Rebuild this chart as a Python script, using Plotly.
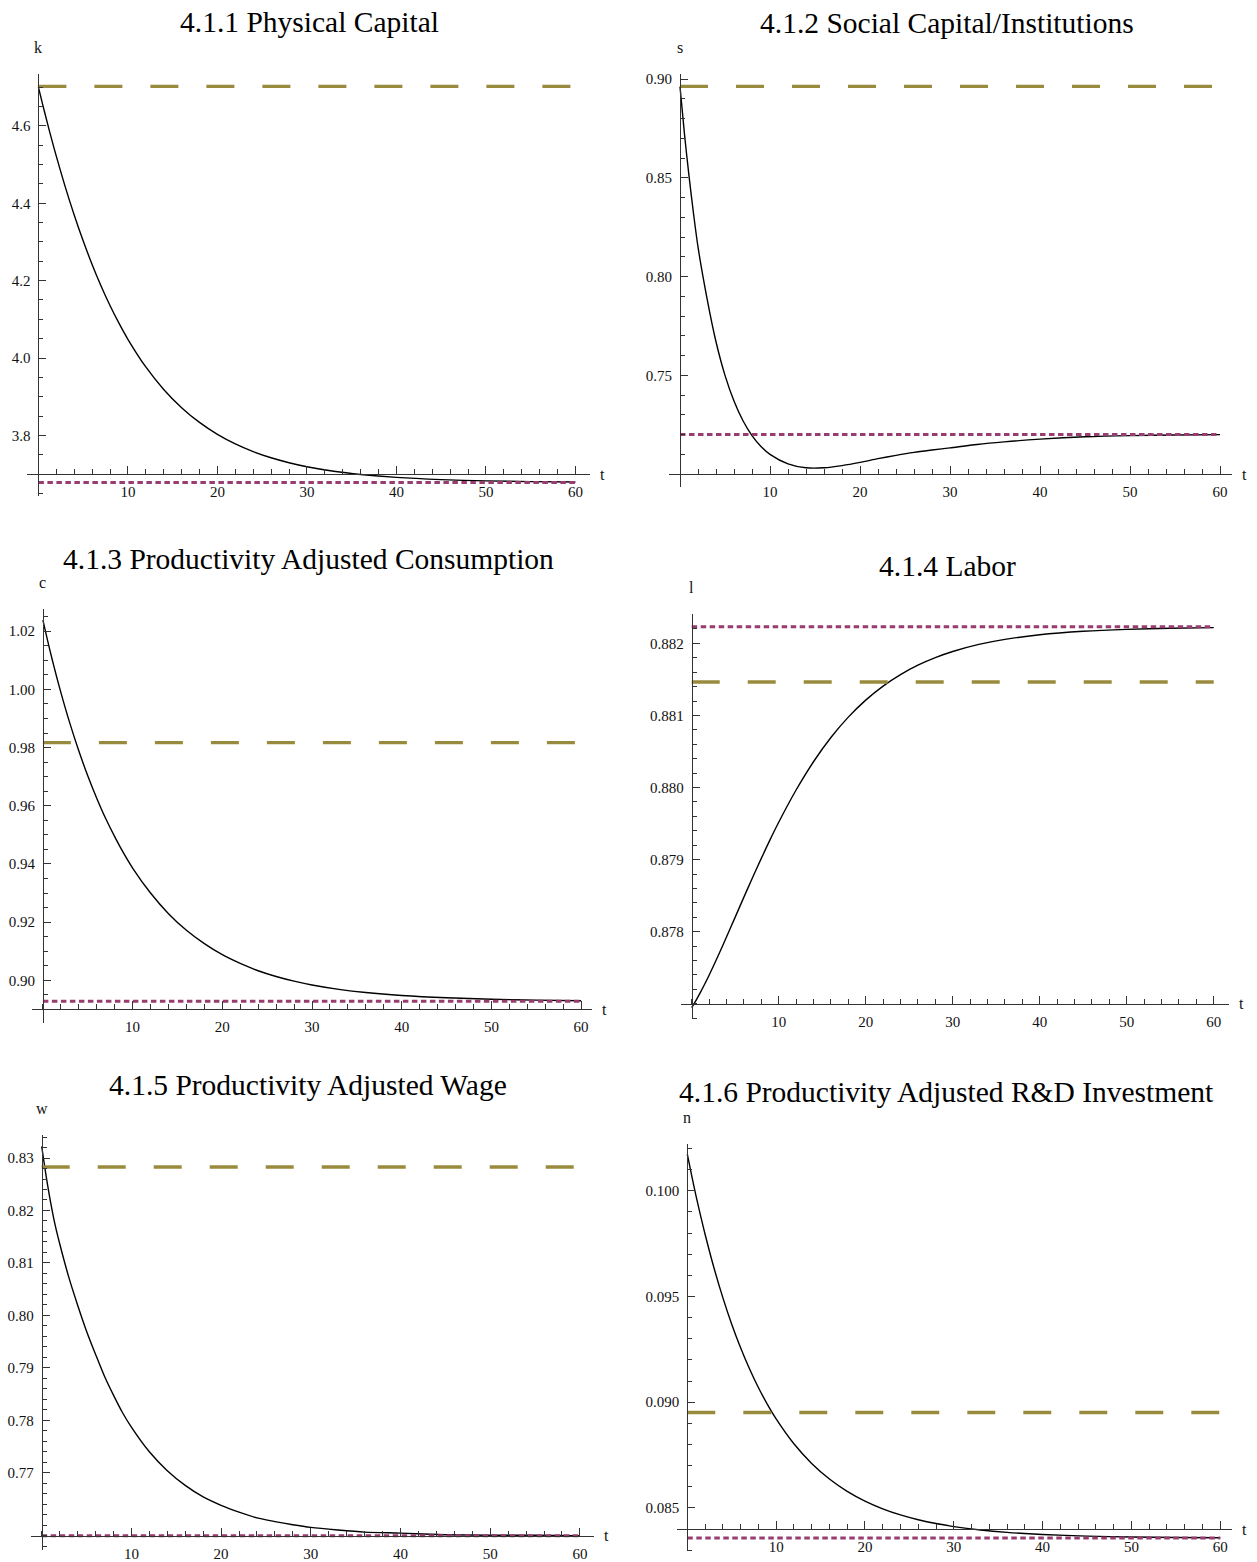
import plotly.graph_objects as go

W, H = 1257, 1562

# time grid of the transition paths
T = [0, 0.5, 1, 1.5, 2, 3, 4, 5, 6, 7, 8, 9, 10, 12, 14, 16, 18, 20, 22, 24,
     26, 28, 30, 33, 36, 40, 45, 50, 55, 60]

# transition paths of the six variables
k_path = [4.7003, 4.6531, 4.6077, 4.5638, 4.5217, 4.4424, 4.3696, 4.3028, 4.2419,
          4.1863, 4.1358, 4.0900, 4.0484, 3.9769, 3.9188, 3.8716, 3.8335, 3.8027,
          3.7780, 3.7581, 3.7422, 3.7294, 3.7191, 3.7074, 3.6991, 3.6914, 3.6857,
          3.6824, 3.6805, 3.6794]
s_path = [0.8962, 0.8720, 0.8510, 0.8320, 0.8150, 0.7890, 0.7670, 0.7500, 0.7370,
          0.7270, 0.7195, 0.7140, 0.7100, 0.7052, 0.7032, 0.7032, 0.7043, 0.7059,
          0.7078, 0.7095, 0.7110, 0.7122, 0.7133, 0.7150, 0.7163, 0.7177, 0.7189,
          0.7195, 0.7198, 0.7200]
c_path = [1.0238, 1.0171, 1.0107, 1.0047, 0.9990, 0.9884, 0.9789, 0.9703, 0.9626,
          0.9556, 0.9494, 0.9437, 0.9386, 0.9300, 0.9229, 0.9172, 0.9126, 0.9088,
          0.9058, 0.9033, 0.9013, 0.8997, 0.8984, 0.8969, 0.8958, 0.8948, 0.8940,
          0.8935, 0.8932, 0.8930]
l_path = [0.876945, 0.877047, 0.877157, 0.877274, 0.877396, 0.877655, 0.877926,
          0.878202, 0.878479, 0.878752, 0.879017, 0.879274, 0.879518, 0.879966,
          0.880358, 0.880694, 0.880977, 0.881213, 0.881408, 0.881568, 0.881698,
          0.881803, 0.881888, 0.881986, 0.882056, 0.882120, 0.882168, 0.882195,
          0.882210, 0.882219]
w_path = [0.8322, 0.8265, 0.8215, 0.8172, 0.8137, 0.8074, 0.8020, 0.7970, 0.7926,
          0.7884, 0.7848, 0.7815, 0.7787, 0.7740, 0.7704, 0.7676, 0.7654, 0.7638,
          0.7625, 0.7614, 0.7607, 0.7601, 0.7596, 0.7591, 0.7587, 0.7585, 0.7582,
          0.7581, 0.7581, 0.7580]
n_path = [0.10173, 0.100699, 0.099726, 0.098809, 0.097943, 0.096356, 0.094946,
          0.093689, 0.092573, 0.091579, 0.090695, 0.089909, 0.089210, 0.088034,
          0.087104, 0.086368, 0.085786, 0.085324, 0.084959, 0.084670, 0.084442,
          0.084261, 0.084118, 0.083957, 0.083844, 0.083743, 0.083669, 0.083627,
          0.083604, 0.083591]

# old (dashed) and new (dotted) steady states
ss_initial = [4.702, 0.8963, 0.9817, 0.881465, 0.82829, 0.089513]
ss_final = [3.678, 0.7200, 0.8928, 0.88223, 0.7580, 0.083575]

titles = ["4.1.1 Physical Capital",
          "4.1.2 Social Capital/Institutions",
          "4.1.3 Productivity Adjusted Consumption",
          "4.1.4 Labor",
          "4.1.5 Productivity Adjusted Wage",
          "4.1.6 Productivity Adjusted R&D Investment"]
var_names = ["k", "s", "c", "l", "w", "n"]

t_ticks = [10, 20, 30, 40, 50, 60]
y_ticks = [[3.8, 4.0, 4.2, 4.4, 4.6],
           [0.75, 0.80, 0.85, 0.90],
           [0.90, 0.92, 0.94, 0.96, 0.98, 1.00, 1.02],
           [0.878, 0.879, 0.880, 0.881, 0.882],
           [0.77, 0.78, 0.79, 0.80, 0.81, 0.82, 0.83],
           [0.085, 0.090, 0.095, 0.100]]
y_minor_step = [0.05, 0.01, 0.005, 0.0002, 0.002, 0.001]
y_formats = [".1f", ".2f", ".2f", ".3f", ".2f", ".3f"]
axis_origin = [3.70, 0.70, 0.89, 0.877, 0.758, 0.084]

paths = [k_path, s_path, c_path, l_path, w_path, n_path]

# panel frames in pixels: x-axis span, t=0 position, px per t unit,
# y-axis span, x-axis height, px per y unit
frames = [
    dict(xl=27, xr=590, x0=38.4, ppt=8.95, yt=71.7, yb=495.0, ya=473.3, ppu=387.9),
    dict(xl=669, xr=1232, x0=680.0, ppt=9.0, yt=71.7, yb=486.7, ya=473.3, ppu=1980.0),
    dict(xl=32, xr=592, x0=42.9, ppt=8.97, yt=608.3, yb=1023.3, ya=1010.0, ppu=2916.7),
    dict(xl=681, xr=1229, x0=691.7, ppt=8.7, yt=614.0, yb=1020.0, ya=1004.3, ppu=72250.0),
    dict(xl=31, xr=594, x0=41.7, ppt=8.97, yt=1136.0, yb=1551.7, ya=1537.7, ppu=5260.0),
    dict(xl=677, xr=1232, x0=687.3, ppt=8.883, yt=1145.0, yb=1553.3, ya=1531.0, ppu=21200.0),
]
title_pos = [(309, 20), (947, 21), (308, 558), (947, 565), (308, 1086), (946, 1093)]

OLIVE = "rgb(153,139,61)"
PURPLE = "rgb(153,61,113)"
AXIS = "#333333"
SERIF = "Liberation Serif, Times New Roman, serif"

fig = go.Figure()
annotations = []
layout = {}

for i in range(6):
    f = frames[i]
    n = i + 1
    xa, ya = f"x{n}", f"y{n}"
    t_end = T[-1]

    fig.add_trace(go.Scatter(x=T, y=paths[i], xaxis=xa, yaxis=ya, mode="lines",
                             line=dict(color="black", width=1.4, shape="spline",
                                       smoothing=0.8),
                             hoverinfo="skip"))
    fig.add_trace(go.Scatter(x=[0, t_end], y=[ss_final[i]] * 2, xaxis=xa, yaxis=ya,
                             mode="lines",
                             line=dict(color=PURPLE, width=3, dash="5.5px,3.5px"),
                             hoverinfo="skip"))
    fig.add_trace(go.Scatter(x=[0, t_end], y=[ss_initial[i]] * 2, xaxis=xa, yaxis=ya,
                             mode="lines",
                             line=dict(color=OLIVE, width=3.4, dash="28px,28px"),
                             hoverinfo="skip"))

    org = axis_origin[i]
    x_range = [(f["xl"] - f["x0"]) / f["ppt"], (f["xr"] - f["x0"]) / f["ppt"]]
    y_range = [org - (f["yb"] - f["ya"]) / f["ppu"], org + (f["ya"] - f["yt"]) / f["ppu"]]

    tickfont = dict(family=SERIF, size=15, color="#111111")
    layout[f"xaxis{n}"] = dict(
        domain=[f["xl"] / W, f["xr"] / W], range=x_range,
        anchor="free", position=1 - f["ya"] / H,
        showline=True, linecolor=AXIS, linewidth=1,
        showgrid=False, zeroline=False,
        ticks="inside", ticklen=8, tickwidth=1, tickcolor=AXIS,
        tickmode="array", tickvals=t_ticks, ticktext=[str(v) for v in t_ticks],
        tickfont=tickfont, ticklabelstandoff=4,
        minor=dict(ticks="inside", ticklen=5, tickwidth=1, tickcolor=AXIS,
                   tick0=0, dtick=2, showgrid=False),
        fixedrange=True,
    )
    layout[f"yaxis{n}"] = dict(
        domain=[1 - f["yb"] / H, 1 - f["yt"] / H], range=y_range,
        anchor="free", position=f["x0"] / W,
        showline=True, linecolor=AXIS, linewidth=1,
        showgrid=False, zeroline=False,
        ticks="inside", ticklen=7, tickwidth=1, tickcolor=AXIS,
        tickmode="array", tickvals=y_ticks[i],
        ticktext=[format(v, y_formats[i]) for v in y_ticks[i]],
        tickfont=tickfont, ticklabelstandoff=5,
        minor=dict(ticks="inside", ticklen=4, tickwidth=1, tickcolor=AXIS,
                   tick0=0, dtick=y_minor_step[i], showgrid=False),
        fixedrange=True,
    )

    # panel title
    tx, ty = title_pos[i]
    annotations.append(dict(text=titles[i], x=tx / W, y=1 - ty / H,
                            xref="paper", yref="paper", xanchor="center",
                            yanchor="middle", showarrow=False,
                            font=dict(family=SERIF, size=29.5, color="black")))
    # variable name above the vertical axis
    annotations.append(dict(text=var_names[i], x=0, y=y_range[1], xref=xa, yref=ya,
                            xanchor="center", yanchor="bottom", yshift=16,
                            showarrow=False,
                            font=dict(family=SERIF, size=16, color="#111111")))
    # time label at the end of the horizontal axis
    annotations.append(dict(text="t", x=x_range[1], y=org, xref=xa, yref=ya,
                            xanchor="left", yanchor="middle", xshift=8,
                            showarrow=False,
                            font=dict(family=SERIF, size=16, color="#111111")))

fig.update_layout(
    width=W, height=H,
    margin=dict(l=0, r=0, t=0, b=0),
    paper_bgcolor="white", plot_bgcolor="rgba(0,0,0,0)",
    showlegend=False,
    annotations=annotations,
    **layout,
)

fig.write_html("out.html")
